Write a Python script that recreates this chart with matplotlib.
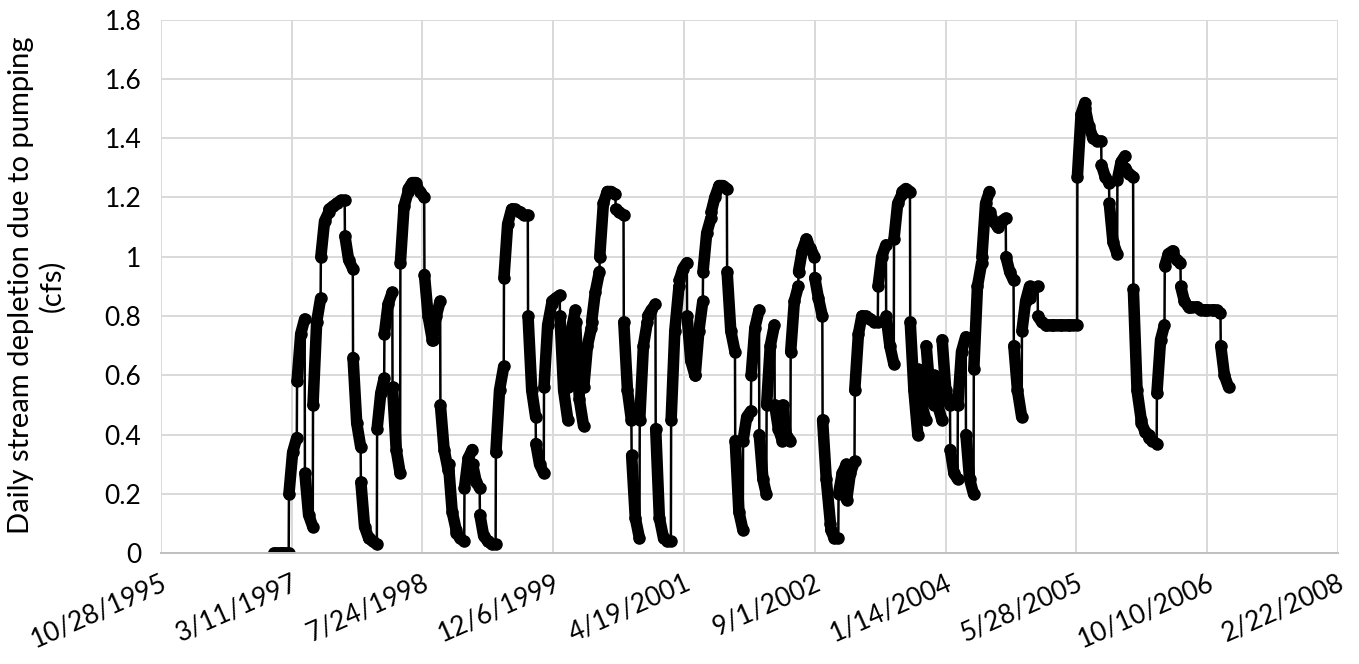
import pandas as pd
import matplotlib
matplotlib.use('Agg')
import matplotlib.pyplot as plt
from matplotlib.ticker import FuncFormatter

# Monthly stress periods: (1st of month, 15th, last day) depletion in cfs
dep_1997 = [(0, 0, 0), (0, 0, 0), (0.20, 0.34, 0.39), (0.58, 0.74, 0.79), (0.27, 0.13, 0.09), (0.50, 0.78, 0.86),
            (1.00, 1.12, 1.15), (1.16, 1.17, 1.18), (1.18, 1.19, 1.19), (1.07, 0.99, 0.96), (0.66, 0.44, 0.36), (0.24, 0.09, 0.05)]
dep_1998 = [(0.05, 0.04, 0.03), (0.42, 0.54, 0.59), (0.74, 0.84, 0.88), (0.56, 0.35, 0.27), (0.98, 1.17, 1.22), (1.23, 1.25, 1.25),
            (1.24, 1.22, 1.20), (0.94, 0.80, 0.72), (0.72, 0.80, 0.85), (0.50, 0.35, 0.28), (0.30, 0.14, 0.08), (0.07, 0.05, 0.04)]
dep_1999 = [(0.22, 0.32, 0.35), (0.30, 0.24, 0.22), (0.13, 0.06, 0.04), (0.04, 0.03, 0.03), (0.34, 0.55, 0.63), (0.93, 1.11, 1.16),
            (1.16, 1.16, 1.15), (1.15, 1.14, 1.14), (0.80, 0.55, 0.46), (0.37, 0.30, 0.27), (0.56, 0.77, 0.84), (0.85, 0.86, 0.87)]
dep_2000 = [(0.80, 0.55, 0.45), (0.56, 0.76, 0.82), (0.78, 0.52, 0.43), (0.56, 0.70, 0.76), (0.78, 0.88, 0.95), (1.00, 1.18, 1.22),
            (1.22, 1.22, 1.21), (1.16, 1.15, 1.14), (0.78, 0.55, 0.45), (0.33, 0.12, 0.05), (0.45, 0.70, 0.78), (0.80, 0.82, 0.84)]
dep_2001 = [(0.42, 0.12, 0.05), (0.05, 0.04, 0.04), (0.45, 0.75, 0.90), (0.92, 0.96, 0.98), (0.80, 0.65, 0.60), (0.60, 0.75, 0.85),
            (0.95, 1.08, 1.13), (1.15, 1.20, 1.24), (1.24, 1.24, 1.23), (0.95, 0.75, 0.68), (0.38, 0.14, 0.08), (0.38, 0.46, 0.48)]
dep_2002 = [(0.60, 0.76, 0.82), (0.40, 0.25, 0.20), (0.50, 0.70, 0.77), (0.50, 0.42, 0.38), (0.50, 0.40, 0.38), (0.68, 0.85, 0.90),
            (0.95, 1.02, 1.06), (1.05, 1.03, 1.00), (0.93, 0.86, 0.80), (0.45, 0.25, 0.10), (0.08, 0.05, 0.05), (0.20, 0.27, 0.30)]
dep_2003 = [(0.18, 0.27, 0.31), (0.55, 0.74, 0.80), (0.80, 0.80, 0.79), (0.79, 0.78, 0.78), (0.90, 1.00, 1.04), (0.80, 0.70, 0.64),
            (1.06, 1.18, 1.21), (1.22, 1.23, 1.22), (0.78, 0.55, 0.40), (0.62, 0.50, 0.45), (0.70, 0.55, 0.50), (0.60, 0.50, 0.45)]
dep_2004 = [(0.72, 0.55, 0.50), (0.35, 0.27, 0.25), (0.50, 0.68, 0.73), (0.40, 0.25, 0.20), (0.62, 0.90, 0.98), (1.00, 1.18, 1.22),
            (1.15, 1.12, 1.10), (1.10, 1.12, 1.13), (1.00, 0.95, 0.92), (0.70, 0.55, 0.46), (0.75, 0.85, 0.90), (0.86, 0.89, 0.90)]
dep_2005 = [(0.80, 0.78, 0.77), (0.77, 0.77, 0.77), (0.77, 0.77, 0.77), (0.77, 0.77, 0.77), (0.77, 0.77, 0.77), (1.27, 1.48, 1.52),
            (1.50, 1.44, 1.40), (1.40, 1.39, 1.39), (1.31, 1.27, 1.25), (1.18, 1.05, 1.01), (1.26, 1.32, 1.34), (1.30, 1.28, 1.27)]
dep_2006 = [(0.89, 0.55, 0.45), (0.44, 0.41, 0.40), (0.39, 0.38, 0.37), (0.54, 0.72, 0.77), (0.97, 1.01, 1.02), (1.01, 0.99, 0.98),
            (0.90, 0.85, 0.83), (0.83, 0.83, 0.83), (0.83, 0.82, 0.82), (0.82, 0.82, 0.82), (0.82, 0.82, 0.81), (0.70, 0.60, 0.56)]

years = [1997, 1998, 1999, 2000, 2001, 2002, 2003, 2004, 2005, 2006]
series = [dep_1997, dep_1998, dep_1999, dep_2000, dep_2001, dep_2002, dep_2003, dep_2004, dep_2005, dep_2006]

tick_labels = ['10/28/1995', '3/11/1997', '7/24/1998', '12/6/1999', '4/19/2001',
               '9/1/2002', '1/14/2004', '5/28/2005', '10/10/2006', '2/22/2008']
y_ticks = [0, 0.2, 0.4, 0.6, 0.8, 1.0, 1.2, 1.4, 1.6, 1.8]

# one short piece per month, plus the full run for the jumps between months
pieces = []
dates, vals = [], []
for yr, months in zip(years, series):
    for m, (v0, v1, v2) in enumerate(months, start=1):
        start = pd.Timestamp(yr, m, 1)
        d = [start, start + pd.Timedelta(days=14), start + pd.offsets.MonthEnd(0)]
        pieces.append((d, [v0, v1, v2]))
        dates += d
        vals += [v0, v1, v2]

plt.rcParams['font.family'] = ['Lato', 'DejaVu Sans']

fig = plt.figure(figsize=(13.59, 6.64), dpi=100)
ax = fig.add_axes([0.1183, 0.1667, 0.9845 - 0.1183, 0.9706 - 0.1667])

ax.plot(dates, vals, color='black', lw=1.8)
# dense daily markers in the source merge into a thick band along each month
for d, v in pieces:
    ax.plot(d, v, color='black', lw=8.3, solid_capstyle='round', solid_joinstyle='round')
ax.plot(dates, vals, ls='none', marker='o', ms=8, mfc='black', mec='black')

tick_dates = pd.to_datetime(tick_labels, format='%m/%d/%Y')
ax.set_xlim(tick_dates[0], tick_dates[-1])
ax.set_xticks(tick_dates)
ax.set_xticklabels(tick_labels, rotation=24, ha='right', va='top', rotation_mode='anchor')
ax.set_ylim(0, 1.8)
ax.set_yticks(y_ticks)
ax.yaxis.set_major_formatter(FuncFormatter(lambda v, p: '%g' % round(v, 1)))

ax.grid(True, color='#d9d9d9', lw=1.4)
ax.set_axisbelow(True)
for s in ['top', 'right', 'left']:
    ax.spines[s].set_visible(False)
ax.spines['bottom'].set_color('#bfbfbf')
ax.spines['bottom'].set_linewidth(1.4)
ax.tick_params(length=0, labelsize=19, colors='black')
ax.tick_params(axis='x', pad=12)
ax.tick_params(axis='y', pad=14)

fig.text(0.027, 0.57, 'Daily stream depletion due to pumping\n(cfs)', rotation=90,
         ha='center', va='center', multialignment='center', fontsize=21)

fig.savefig('out.png', dpi=100)
